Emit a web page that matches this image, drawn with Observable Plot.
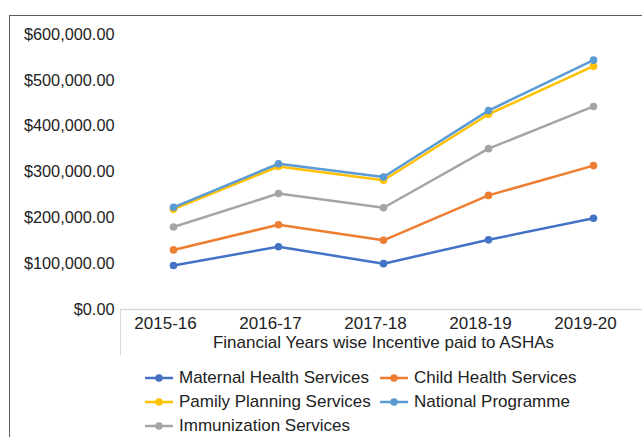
<!DOCTYPE html>
<html>
<head>
<meta charset="utf-8">
<script src="https://cdn.jsdelivr.net/npm/d3@7"></script>
<script src="https://cdn.jsdelivr.net/npm/@observablehq/plot@0.6"></script>
<style>
  html, body { margin: 0; padding: 0; background: #fff; }
  #wrap { position: relative; width: 642px; height: 437px; overflow: hidden; font-family: "Liberation Sans", Arial, sans-serif; color: #222; }
  #frame { position: absolute; left: 9px; top: 15px; width: 700px; height: 500px; border-left: 1.5px solid #5a5a5a; border-top: 1.5px solid #5a5a5a; }
  #xbox { position: absolute; left: 120px; top: 309px; width: 0; height: 46px; border-left: 1.5px solid #d9d9d9; }
  #chart { position: absolute; left: 0; top: 0; }
  .leg { position: absolute; font-size: 17px; line-height: 20px; white-space: nowrap; display: flex; align-items: center; }
  .leg svg { margin-right: 6px; }
</style>
</head>
<body>
<div id="wrap">
  <div id="frame"></div>
  <div id="chart"></div>
  <div id="xbox"></div>
  <div id="legend"></div>
</div>
<script>
const years = ["2015-16", "2016-17", "2017-18", "2018-19", "2019-20"];
const seriesNames = ["Maternal Health Services", "Child Health Services", "Pamily Planning Services", "National Programme", "Immunization Services"];
const seriesColors = ["#4472C4", "#ED7D31", "#FFC000", "#5B9BD5", "#A5A5A5"];
const maternal = [96000, 137000, 100000, 152000, 199000];
const child = [130000, 185000, 151000, 249000, 314000];
const family = [219000, 312000, 282000, 426000, 531000];
const national = [223000, 318000, 289000, 434000, 544000];
const immunization = [180000, 253000, 222000, 351000, 443000];
const yTicks = [0, 100000, 200000, 300000, 400000, 500000, 600000];
const xTitle = "Financial Years wise Incentive paid to ASHAs";

const seriesValues = [maternal, child, family, national, immunization];
const drawOrder = [0, 1, 2, 3, 4];
const data = [];
seriesNames.forEach((s, i) => years.forEach((y, j) => data.push({series: s, year: y, value: seriesValues[i][j]})));

const lineMarks = [];
for (const i of drawOrder) {
  const d = data.filter(r => r.series === seriesNames[i]);
  lineMarks.push(Plot.line(d, {x: "year", y: "value", stroke: "series", strokeWidth: 2.5}));
  lineMarks.push(Plot.dot(d, {x: "year", y: "value", fill: "series", r: 3.8}));
}

const chart = Plot.plot({
  width: 642,
  height: 360,
  marginTop: 34,
  marginBottom: 51,
  marginLeft: 120,
  marginRight: 0,
  style: {fontFamily: "'Liberation Sans', Arial, sans-serif", fontSize: "16px", color: "#222", background: "transparent", overflow: "visible"},
  x: {type: "point", domain: years, range: [120, 645], padding: 0.5},
  y: {domain: [0, 600000]},
  color: {domain: seriesNames, range: seriesColors},
  marks: [
    Plot.ruleY([0], {stroke: "#d9d9d9", strokeWidth: 1.5}),
    Plot.axisY(yTicks, {tickSize: 0, tickPadding: 6, tickFormat: d3.format("$,.2f"), fontSize: 16.3, fill: "#222", label: null}),
    Plot.axisX(years, {tickSize: 0, tickPadding: 7, dx: -8, fontSize: 17, fill: "#222", label: null}),
    Plot.text([xTitle], {frameAnchor: "bottom", dy: 38, dx: 2, fontSize: 17, fill: "#222"}),
    ...lineMarks
  ]
});
document.getElementById("chart").appendChild(chart);

// legend
const legendPos = [
  {x: 145, y: 378}, {x: 380, y: 378},
  {x: 145, y: 402}, {x: 380, y: 402},
  {x: 145, y: 426}
];
const legend = document.getElementById("legend");
seriesNames.forEach((s, i) => {
  const div = document.createElement("div");
  div.className = "leg";
  div.style.left = legendPos[i].x + "px";
  div.style.top = (legendPos[i].y - 10) + "px";
  div.innerHTML = `<svg width="28" height="10"><line x1="0" x2="28" y1="5" y2="5" stroke="${seriesColors[i]}" stroke-width="2.5"/><circle cx="14" cy="5" r="3.8" fill="${seriesColors[i]}"/></svg><span>${s}</span>`;
  legend.appendChild(div);
});
</script>
</body>
</html>
